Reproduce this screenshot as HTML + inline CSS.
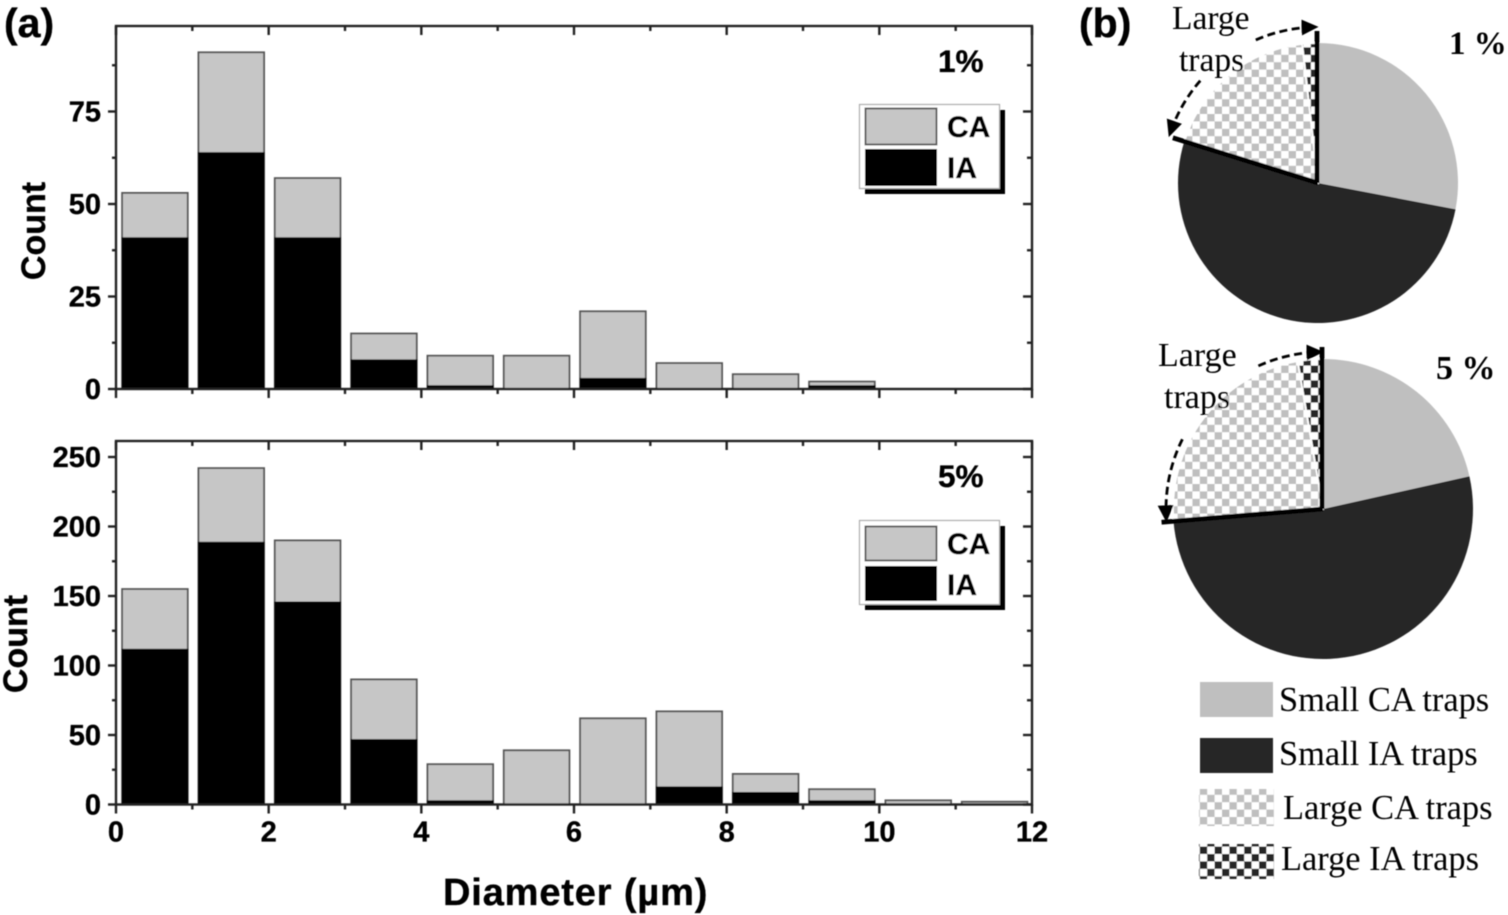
<!DOCTYPE html>
<html lang="en">
<head>
<meta charset="utf-8">
<title>Trap diameter histograms and trap type pies</title>
<style>
html,body{margin:0;padding:0;background:#fff;width:1508px;height:915px;overflow:hidden}
svg{display:block}
.sans{font-family:"Liberation Sans",Arial,sans-serif;font-weight:bold;fill:#000;stroke:#000;stroke-width:.35px}
.serif{font-family:"Liberation Serif","Times New Roman",serif;fill:#000}
</style>
</head>
<body>
<svg id="figure" xmlns="http://www.w3.org/2000/svg" width="1508" height="915" viewBox="0 0 1508 915">
<defs>
  <filter id="soft" x="0" y="0" width="100%" height="100%"><feGaussianBlur stdDeviation="0.65"/></filter>
  <pattern id="check-ca" width="14.8" height="14.8" patternUnits="userSpaceOnUse" x="1" y="3">
    <rect width="14.8" height="14.8" fill="#fff"/>
    <rect width="7.4" height="7.4" fill="#bfbfbf"/>
    <rect x="7.4" y="7.4" width="7.4" height="7.4" fill="#bfbfbf"/>
  </pattern>
  <pattern id="check-ia" width="14.8" height="14.8" patternUnits="userSpaceOnUse" x="1" y="3">
    <rect width="14.8" height="14.8" fill="#fff"/>
    <rect width="7.4" height="7.4" fill="#282828"/>
    <rect x="7.4" y="7.4" width="7.4" height="7.4" fill="#282828"/>
  </pattern>
  <marker id="arrowhead" markerUnits="userSpaceOnUse" markerWidth="18" markerHeight="16" refX="11" refY="8" orient="auto">
    <path d="M0,0 L17,8 L0,16 Z" fill="#000"/>
  </marker>
</defs>
<g id="root" filter="url(#soft)">
  <g id="panel-top"></g>
  <g id="panel-bottom"></g>
  <g id="pie-top"></g>
  <g id="pie-bottom"></g>

  <text class="sans" x="4" y="37" font-size="41">(a)</text>
  <text class="sans" x="1079" y="37" font-size="41">(b)</text>

  <text class="sans" x="938" y="72" font-size="31.5">1%</text>
  <text class="sans" x="938" y="487" font-size="31.5">5%</text>

  <text class="sans" transform="translate(45,231) rotate(-90)" text-anchor="middle" font-size="34">Count</text>
  <text class="sans" transform="translate(27,644) rotate(-90)" text-anchor="middle" font-size="34">Count</text>
  <text class="sans" x="443" y="905" font-size="38" letter-spacing="0.85">Diameter (µm)</text>

  <g>
    <rect x="865" y="110" width="140" height="84" fill="#000"/>
    <rect x="859.5" y="104.5" width="140" height="84" fill="#fff" stroke="#aaa" stroke-width="1.2"/>
    <rect x="865.5" y="108.5" width="71" height="36" fill="#c6c6c6" stroke="#555" stroke-width="1.8"/>
    <rect x="865" y="149" width="72" height="37" fill="#000"/>
    <text class="sans" x="947" y="137" font-size="30">CA</text>
    <text class="sans" x="947" y="178" font-size="30">IA</text>
  </g>
  <g>
    <rect x="865" y="526" width="140" height="84" fill="#000"/>
    <rect x="859.5" y="520.5" width="140" height="84" fill="#fff" stroke="#aaa" stroke-width="1.2"/>
    <rect x="865.5" y="526.5" width="71" height="34" fill="#c6c6c6" stroke="#555" stroke-width="1.8"/>
    <rect x="865" y="566" width="72" height="35" fill="#000"/>
    <text class="sans" x="947" y="554" font-size="30">CA</text>
    <text class="sans" x="947" y="595" font-size="30">IA</text>
  </g>

  <text class="serif" x="1172" y="29" font-size="33.5">Large</text>
  <text class="serif" x="1179" y="71" font-size="33.5">traps</text>
  <text class="serif" x="1158" y="366" font-size="34">Large</text>
  <text class="serif" x="1164" y="408" font-size="34">traps</text>
  <text class="serif" x="1449" y="54" font-size="33" font-weight="bold">1 %</text>
  <text class="serif" x="1436" y="379" font-size="34" font-weight="bold">5 %</text>

  <g>
    <rect x="1200" y="682" width="73" height="35" fill="#bfbfbf"/>
    <rect x="1200" y="738" width="73" height="35" fill="#282828"/>
    <rect x="1199" y="789" width="75" height="37" fill="url(#check-ca)"/>
    <rect x="1199" y="844" width="75" height="35" fill="url(#check-ia)"/>
    <text class="serif" x="1279" y="711" font-size="34.4">Small CA traps</text>
    <text class="serif" x="1279" y="765" font-size="34.4">Small IA traps</text>
    <text class="serif" x="1283" y="819" font-size="34.4">Large CA traps</text>
    <text class="serif" x="1281" y="870" font-size="34.4">Large IA traps</text>
  </g>
</g>
</svg>
<script>
// Histogram data
const binStarts = [0, 1, 2, 3, 4, 5, 6, 7, 8, 9, 10, 11];
const caCountsTop = [12, 27, 16, 7, 8, 9, 18, 7, 4, 1, 0, 0];
const iaCountsTop = [41, 64, 41, 8, 1, 0, 3, 0, 0, 1, 0, 0];
const caCountsBottom = [43, 53, 44, 43, 26, 39, 62, 54, 13, 8, 3, 2];
const iaCountsBottom = [112, 189, 146, 47, 3, 0, 0, 13, 9, 3, 0, 0];
const xTickValues = [0, 2, 4, 6, 8, 10, 12];
const yTickValuesTop = [0, 25, 50, 75];
const yTickValuesBottom = [0, 50, 100, 150, 200, 250];
// Pie data: percentages of small CA, small IA, large CA, large IA
const pieValuesTop = [28, 51.8, 18.4, 1.8];
const pieValuesBottom = [21.5, 52.2, 23.6, 2.7];

const SVGNS = 'http://www.w3.org/2000/svg';
function mk(tag, attrs, parent) {
  const el = document.createElementNS(SVGNS, tag);
  for (const k in attrs) el.setAttribute(k, attrs[k]);
  parent.appendChild(el);
  return el;
}

function drawHistogram(g, cfg) {
  const xMin = 0, xMax = 12;
  const xs = v => cfg.left + (v - xMin) / (xMax - xMin) * (cfg.right - cfg.left);
  const ys = v => cfg.zeroY - v * cfg.pxPerUnit;
  const frameColor = '#222';

  binStarts.forEach((b, i) => {
    const x0 = xs(b + 0.08), x1 = xs(b + 0.94);
    const ia = cfg.ia[i], ca = cfg.ca[i];
    const total = ia + ca;
    if (total > 0) {
      const bar = mk('rect', {x: x0, y: ys(total), width: x1 - x0, height: ys(0) - ys(total), fill: '#c6c6c6', stroke: '#555', 'stroke-width': 1.8}, g);
      
      
    }
    if (ia > 0) {
      const bar = mk('rect', {x: x0 - 0.5, y: ys(ia), width: x1 - x0 + 1, height: ys(0) - ys(ia), fill: '#000'}, g);
      
      
    }
  });

  const frame = mk('rect', {x: cfg.left, y: cfg.top, width: cfg.right - cfg.left, height: ys(0) - cfg.top, fill: 'none', stroke: frameColor, 'stroke-width': 2.4}, g);
  
  

  for (let v = xMin; v <= xMax; v += 1) {
    const major = v % 2 === 0;
    const px = xs(v);
    const down = mk('line', {x1: px, x2: px, y1: ys(0), y2: ys(0) + (major ? 9 : 5), stroke: frameColor, 'stroke-width': 2.4}, g);
    
    
    const up = mk('line', {x1: px, x2: px, y1: cfg.top, y2: cfg.top + (major ? 9 : 5), stroke: frameColor, 'stroke-width': 2.4}, g);
    
    
  }

  const step = cfg.yTicks[1] - cfg.yTicks[0];
  for (let v = 0; ys(v) > cfg.top + 2; v += step / 2) {
    const major = v % step === 0;
    const py = ys(v);
    const l = mk('line', {x1: cfg.left - (major ? 8 : 4), x2: cfg.left, y1: py, y2: py, stroke: frameColor, 'stroke-width': 2.4}, g);
    
    
    const r = mk('line', {x1: cfg.right - (major ? 9 : 5), x2: cfg.right, y1: py, y2: py, stroke: frameColor, 'stroke-width': 2.4}, g);
    
    
  }

  cfg.yTicks.forEach(v => {
    const t = mk('text', {x: 101, y: ys(v) + 10, 'text-anchor': 'end', 'font-size': 29, class: 'sans'}, g);
    t.textContent = v;
    
    
  });

  if (cfg.showXLabels) {
    xTickValues.forEach(v => {
      const t = mk('text', {x: xs(v), y: ys(0) + 37, 'text-anchor': 'middle', 'font-size': 29, class: 'sans'}, g);
      t.textContent = v;
      
      
    });
  }
}

function polar(c, r, deg) {
  const a = deg * Math.PI / 180;
  return [c.x + r * Math.sin(a), c.y - r * Math.cos(a)];
}

function wedgePath(c, r, a0, a1) {
  const p0 = polar(c, r, a0), p1 = polar(c, r, a1);
  const large = a1 - a0 > 180 ? 1 : 0;
  return 'M' + c.x + ',' + c.y + ' L' + p0[0] + ',' + p0[1] + ' A' + r + ',' + r + ' 0 ' + large + ' 1 ' + p1[0] + ',' + p1[1] + ' Z';
}

function drawPie(g, cfg) {
  const sum = cfg.values.reduce((a, b) => a + b, 0);
  const fills = ['#bfbfbf', '#282828', 'url(#check-ca)', 'url(#check-ia)'];
  const names = ['small-ca-slice', 'small-ia-slice', 'large-ca-slice', 'large-ia-slice'];
  let angle = 0;
  const starts = [];
  cfg.values.forEach((v, i) => {
    const sweep = v / sum * 360;
    starts.push(angle);
    const attrs = {d: wedgePath(cfg.center, cfg.r, angle, angle + sweep), fill: fills[i]};
    if (i >= 2) { attrs.stroke = '#fff'; attrs['stroke-width'] = 1.8; }
    const s = mk('path', attrs, g);
    
    
    angle += sweep;
  });

  const largeStart = starts[2];
  const spokeA = polar(cfg.center, cfg.r + 12, largeStart);
  const s1 = mk('line', {x1: cfg.center.x, y1: cfg.center.y, x2: spokeA[0], y2: spokeA[1], stroke: '#000', 'stroke-width': 4.8}, g);
  
  
  const spokeB = polar(cfg.center, cfg.r + 12, 360);
  const s2 = mk('line', {x1: cfg.center.x - 1, y1: cfg.center.y, x2: spokeB[0] - 1, y2: spokeB[1], stroke: '#000', 'stroke-width': 4.8}, g);
  
  

  const ra = cfg.arcRadius;
  const upA = polar(cfg.center, ra, cfg.arcUpperStart), upB = polar(cfg.center, ra, 358);
  const upper = mk('path', {d: 'M' + upA[0] + ',' + upA[1] + ' A' + ra + ',' + ra + ' 0 0 1 ' + upB[0] + ',' + upB[1], fill: 'none', stroke: '#000', 'stroke-width': 2.8, 'stroke-dasharray': '8 4.5', 'marker-end': 'url(#arrowhead)'}, g);
  
  
  const loA = polar(cfg.center, ra, cfg.arcLowerStart), loB = polar(cfg.center, ra, largeStart + 2);
  const lower = mk('path', {d: 'M' + loA[0] + ',' + loA[1] + ' A' + ra + ',' + ra + ' 0 0 0 ' + loB[0] + ',' + loB[1], fill: 'none', stroke: '#000', 'stroke-width': 2.8, 'stroke-dasharray': '8 4.5', 'marker-end': 'url(#arrowhead)'}, g);
  
  
}

drawHistogram(document.getElementById('panel-top'), {
  left: 116, right: 1032, top: 26, zeroY: 389, pxPerUnit: 3.7,
  ca: caCountsTop, ia: iaCountsTop, yTicks: yTickValuesTop, showXLabels: false
});
drawHistogram(document.getElementById('panel-bottom'), {
  left: 116, right: 1032, top: 441, zeroY: 804.5, pxPerUnit: 1.39,
  ca: caCountsBottom, ia: iaCountsBottom, yTicks: yTickValuesBottom, showXLabels: true
});
drawPie(document.getElementById('pie-top'), {
  center: {x: 1318, y: 183}, r: 140, values: pieValuesTop,
  arcRadius: 156, arcUpperStart: 336.5, arcLowerStart: 311
});
drawPie(document.getElementById('pie-bottom'), {
  center: {x: 1323, y: 509}, r: 150, values: pieValuesBottom,
  arcRadius: 157, arcUpperStart: 335.7, arcLowerStart: 296.4
});
</script>
</body>
</html>
